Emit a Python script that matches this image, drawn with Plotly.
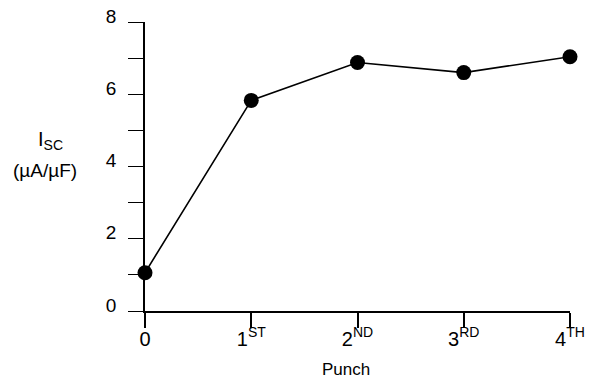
import plotly.graph_objects as go

# Short-circuit current after successive punches
punch_pos = [0, 1, 2, 3, 4]
punch_labels = ["0", "1<sup>ST</sup>", "2<sup>ND</sup>", "3<sup>RD</sup>", "4<sup>TH</sup>"]
isc_values = [1.06, 5.83, 6.88, 6.60, 7.04]

y_ticks = [0, 2, 4, 6, 8]

font_family = "Liberation Sans, Arial, sans-serif"

W, H = 592, 379
ML, MR, MT, MB = 145, 22, 22, 68
plot_w = W - ML - MR
plot_h = H - MT - MB


def px_to_paper(px, py):
    return (px - ML) / plot_w, (H - MB - py) / plot_h


fig = go.Figure()
fig.add_trace(go.Scatter(
    x=punch_pos,
    y=isc_values,
    mode="lines+markers",
    line=dict(color="black", width=1.6),
    marker=dict(color="black", size=15),
    cliponaxis=False,
    showlegend=False,
))

fig.update_layout(
    width=W,
    height=H,
    margin=dict(l=ML, r=MR, t=MT, b=MB, autoexpand=False),
    paper_bgcolor="white",
    plot_bgcolor="white",
    font=dict(family=font_family, color="black"),
    xaxis=dict(
        range=[0, 4],
        tickvals=punch_pos,
        ticktext=punch_labels,
        ticks="outside",
        ticklen=15,
        tickwidth=1.6,
        tickcolor="black",
        ticklabelstandoff=-6,
        showline=True,
        linecolor="black",
        linewidth=1.6,
        showgrid=False,
        zeroline=False,
        automargin=False,
        tickfont=dict(size=20),
    ),
    yaxis=dict(
        range=[0, 8],
        tickvals=y_ticks,
        ticks="outside",
        ticklen=15,
        tickwidth=1.4,
        tickcolor="black",
        ticklabelstandoff=8,
        ticklabelshift=-6,
        minor=dict(dtick=1, ticks="outside", ticklen=15, tickwidth=1.4, tickcolor="black"),
        showline=True,
        linecolor="black",
        linewidth=1.6,
        showgrid=False,
        zeroline=False,
        automargin=False,
        tickfont=dict(size=19),
    ),
)

# x-axis title below the tick labels
ax, ay = px_to_paper(346, 369)
fig.add_annotation(
    x=ax, y=ay, xref="paper", yref="paper", xanchor="center", yanchor="middle",
    text="Punch", showarrow=False, font=dict(size=17),
)

# y-axis title, two lines to the left of the tick labels
ax, ay = px_to_paper(50, 140)
fig.add_annotation(
    x=ax, y=ay, xref="paper", yref="paper", xanchor="center", yanchor="middle",
    text="I<sub>SC</sub>", showarrow=False, font=dict(size=20),
)
ax, ay = px_to_paper(45, 170)
fig.add_annotation(
    x=ax, y=ay, xref="paper", yref="paper", xanchor="center", yanchor="middle",
    text="(µA/µF)", showarrow=False, font=dict(size=19),
)

fig.write_html("out.html")
